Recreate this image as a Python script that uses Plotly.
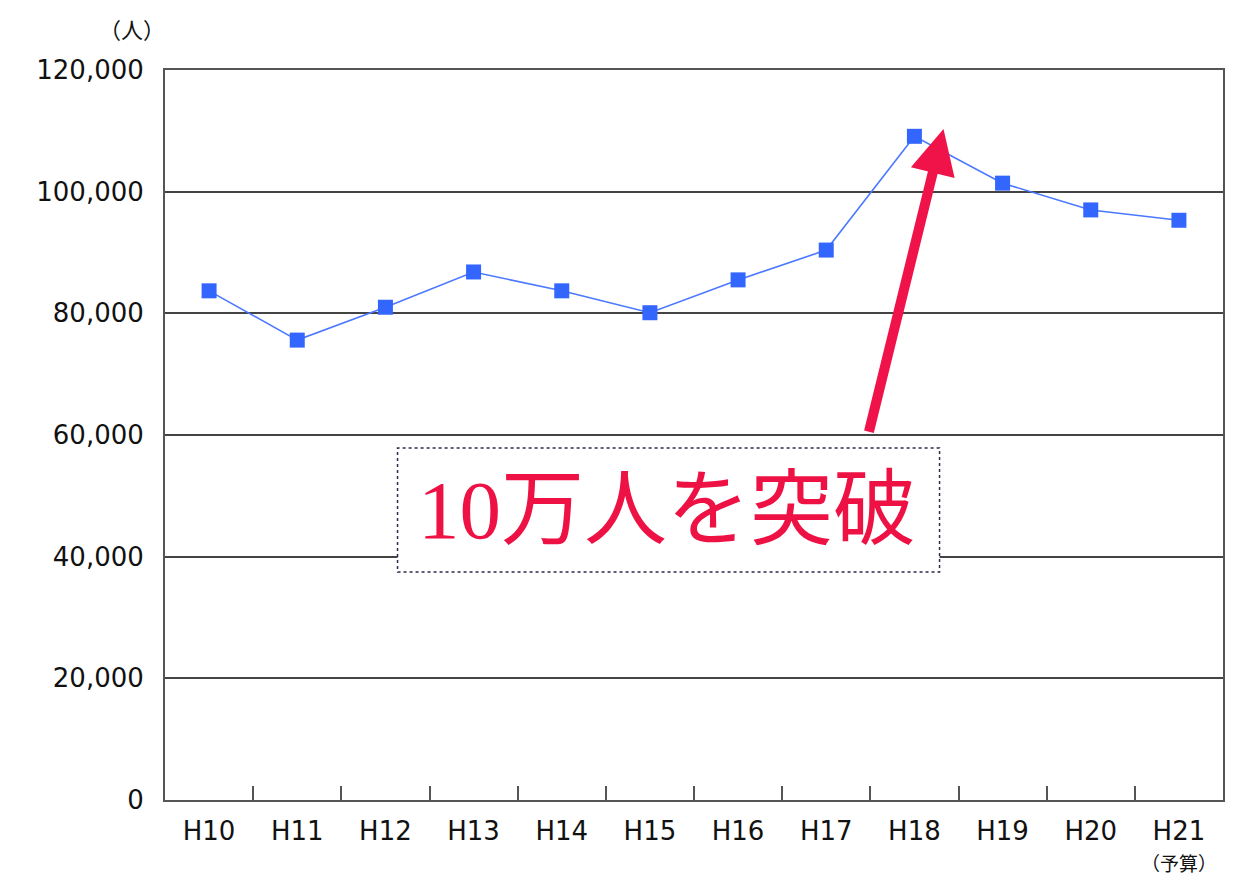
import plotly.graph_objects as go

categories = ["H10", "H11", "H12", "H13", "H14", "H15", "H16", "H17", "H18", "H19", "H20", "H21"]
tick_labels = ["H10", "H11", "H12", "H13", "H14", "H15", "H16", "H17", "H18", "H19", "H20", "H21"]
budget_note = "（予算）"
visitors = [83700, 75600, 81000, 86800, 83700, 80100, 85500, 90400, 109100, 101400, 97000, 95300]
y_ticks = [0, 20000, 40000, 60000, 80000, 100000, 120000]
y_tick_labels = ["0", "20,000", "40,000", "60,000", "80,000", "100,000", "120,000"]

x_idx = list(range(len(categories)))

fig = go.Figure()
fig.add_trace(go.Scatter(
    x=x_idx, y=visitors, mode="lines+markers",
    line=dict(color="#4a78ff", width=1.6),
    marker=dict(symbol="square", size=15, color="#3366ff"),
    showlegend=False, hoverinfo="skip",
))

axis_font = dict(family="DejaVu Sans", size=26, color="#111111")

fig.update_layout(
    width=1227, height=871,
    margin=dict(l=157, r=10, t=62, b=79),
    paper_bgcolor="white", plot_bgcolor="white",
    xaxis=dict(
        range=[-0.5, 11.5], tickmode="array", tickvals=x_idx, ticktext=tick_labels,
        ticks="", showgrid=False, zeroline=False,
        showline=True, linecolor="#555555", linewidth=2, mirror=True,
        tickfont=axis_font, ticklabelstandoff=7, ticklabeloverflow="allow",
        minor=dict(tickmode="array", tickvals=[i + 0.5 for i in range(11)],
                   ticks="inside", ticklen=14, tickwidth=2, tickcolor="#555555", showgrid=False),
    ),
    yaxis=dict(
        range=[0, 120000], tickmode="array", tickvals=y_ticks, ticktext=y_tick_labels,
        ticks="", showgrid=True, gridcolor="#444444", gridwidth=2, zeroline=False,
        showline=True, linecolor="#555555", linewidth=2, mirror=True,
        tickfont=axis_font, ticklabelstandoff=14,
    ),
)

# budget note under H21
fig.add_annotation(xref="x", yref="paper", x=x_idx[-1], y=-0.107, xanchor="center", yanchor="bottom",
                   text=budget_note, showarrow=False,
                   font=dict(family="Noto Sans CJK JP", size=19, color="#111111"))

# unit label
fig.add_annotation(xref="paper", yref="paper", x=0.002, y=1.082, xanchor="right", yanchor="top",
                   text="（人）", showarrow=False, font=dict(family="Noto Sans CJK JP", size=22, color="#111111"))

# dashed box
fig.add_shape(type="rect", xref="paper", yref="paper", x0=0.2198, x1=0.7321, y0=0.3123, y1=0.4822,
              line=dict(color="#2b2d4a", width=1.5, dash="dot"), fillcolor="white", layer="above")
fig.add_annotation(xref="paper", yref="paper", x=0.4745, y=0.397, xanchor="center", yanchor="middle",
                   text="10万人を突破", showarrow=False,
                   font=dict(family="Liberation Serif, Noto Sans CJK JP", size=83, color="#ee1144"))

# arrow
fig.add_annotation(x=8.33, y=110300, xref="x", yref="y", ax=7.48, ay=60300, axref="x", ayref="y",
                   text="", showarrow=True, arrowhead=2, arrowsize=0.9, arrowwidth=10, arrowcolor="#f0134a",
                   standoff=0)

fig.write_html("out.html", config={"displayModeBar": False})
